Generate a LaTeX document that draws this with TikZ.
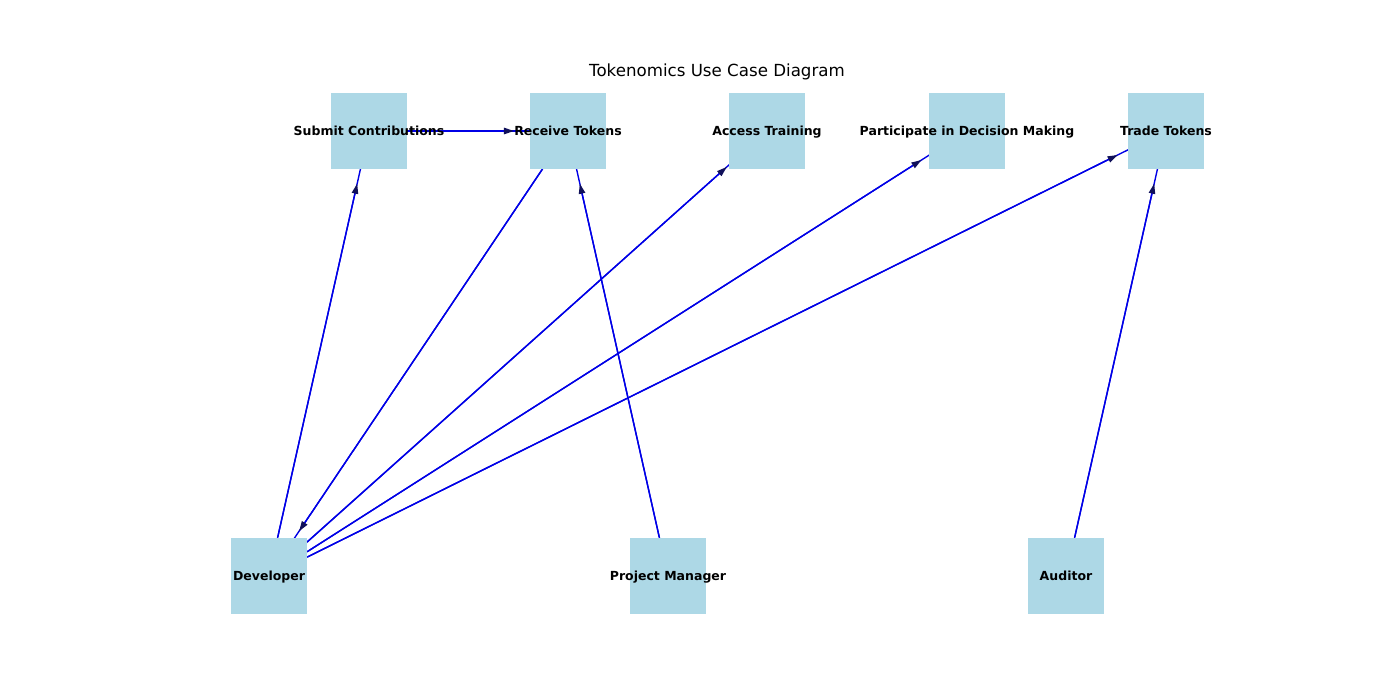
\documentclass[tikz,border=0pt]{standalone}
\usepackage{fontspec}
\setmainfont{DejaVu Sans}
\usetikzlibrary{calc,backgrounds,arrows.meta}
\definecolor{boxblue}{HTML}{ADD8E6}
\definecolor{edgeblue}{HTML}{0000E6}
\definecolor{tipnavy}{HTML}{10105A}
\def\shr{38.9pt}
\tikzset{
  box/.style={fill=boxblue, draw=none, minimum size=55.4pt, inner sep=0pt},
  lbl/.style={font=\fontsize{9}{10}\selectfont\bfseries, inner sep=0pt, text=black, text height=8.3pt, text depth=1.7pt},
  titlenode/.style={font=\fontsize{12}{14}\selectfont, inner sep=0pt, text height=10.4pt, text depth=2.3pt},
  edgeline/.style={draw=edgeblue, line width=1pt},
  arrowline/.style={draw=edgeblue, line width=1pt, -{Triangle[length=7.2pt,width=4.6pt,color=tipnavy]}},
}
\begin{document}
\begin{tikzpicture}[x=0.72pt,y=-0.72pt]
\useasboundingbox (0,0) rectangle (1400,700);
\node[titlenode] (title) at (717,71) {Tokenomics Use Case Diagram};
% use cases
\node[box] (sub) at (369,131) {};
\node[box] (rec) at (568,131) {};
\node[box] (acc) at (767,131) {};
\node[box] (par) at (967,131) {};
\node[box] (tra) at (1166,131) {};
% actors
\node[box] (dev) at (269,576) {};
\node[box] (pm) at (668,576) {};
\node[box] (aud) at (1066,576) {};
% center-to-center lines behind the boxes
\begin{scope}[on background layer]
\draw[edgeline] (dev.center) -- (sub.center);
\draw[edgeline] (sub.center) -- (rec.center);
\draw[edgeline] (rec.center) -- (dev.center);
\draw[edgeline] (dev.center) -- (acc.center);
\draw[edgeline] (dev.center) -- (par.center);
\draw[edgeline] (dev.center) -- (tra.center);
\draw[edgeline] (pm.center) -- (rec.center);
\draw[edgeline] (aud.center) -- (tra.center);
\end{scope}
% arrows
\draw[arrowline] (dev) -- ($(sub.center)!\shr!(dev.center)$);
\draw[arrowline] (sub) -- ($(rec.center)!\shr!(sub.center)$);
\draw[arrowline] (rec) -- ($(dev.center)!\shr!(rec.center)$);
\draw[arrowline] (dev) -- ($(acc.center)!\shr!(dev.center)$);
\draw[arrowline] (dev) -- ($(par.center)!\shr!(dev.center)$);
\draw[arrowline] (dev) -- ($(tra.center)!\shr!(dev.center)$);
\draw[arrowline] (pm) -- ($(rec.center)!\shr!(pm.center)$);
\draw[arrowline] (aud) -- ($(tra.center)!\shr!(aud.center)$);
% labels on top
\node[lbl] (subL) at (sub.center) {Submit Contributions};
\node[lbl] (recL) at (rec.center) {Receive Tokens};
\node[lbl] (accL) at (acc.center) {Access Training};
\node[lbl] (parL) at (par.center) {Participate in Decision Making};
\node[lbl] (traL) at (tra.center) {Trade Tokens};
\node[lbl] (devL) at (dev.center) {Developer};
\node[lbl] (pmL) at (pm.center) {Project Manager};
\node[lbl] (audL) at (aud.center) {Auditor};
\end{tikzpicture}
\end{document}
